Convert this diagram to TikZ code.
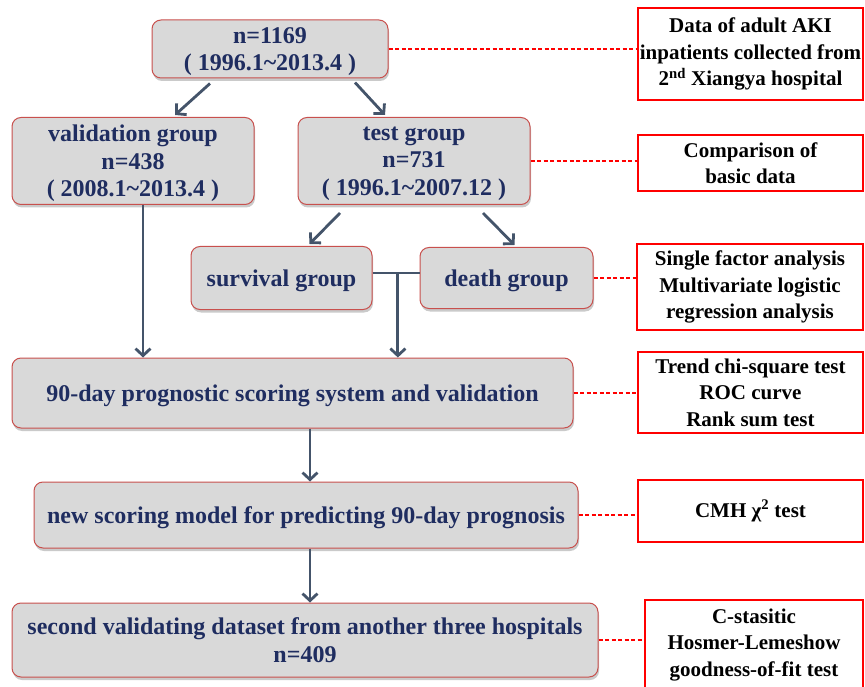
\documentclass[tikz,border=0pt]{standalone}
\usepackage{fontspec}
\setmainfont{Liberation Serif}
\usepackage{tikz}
\usetikzlibrary{calc,arrows.meta,shadows}

\definecolor{boxgray}{RGB}{217,217,217}
\definecolor{boxred}{RGB}{200,80,77}
\definecolor{navy}{RGB}{31,45,96}
\definecolor{arrowgray}{RGB}{68,84,106}

\tikzset{
  stage/.style={draw=boxred, fill=boxgray, line width=1pt, rounded corners=9pt,
    text=navy, align=center, inner sep=0pt, text depth=0pt,
    font=\bfseries\fontsize{24}{27.5}\selectfont,
    drop shadow={shadow xshift=1pt, shadow yshift=-3pt, opacity=0.35, fill=black!60}},
  note/.style={draw=red, line width=1.3pt, fill=white, align=center, inner sep=0pt,
    font=\bfseries\fontsize{21}{26.5}\selectfont},
  flow/.style={draw=arrowgray, line width=2.8pt, -{Straight Barb[length=7pt,width=15pt]}},
  link/.style={draw=red, line width=1.5pt, dash pattern=on 4pt off 2.5pt}
}

\begin{document}
\begin{tikzpicture}[x=1pt, y=-1pt]

      % page frame (reference size)
      \useasboundingbox (0,0) rectangle (865,687);

      % Main stages (left column)
      \node[stage, minimum width=236, minimum height=58] (all) at (270,49)
        {n=1169\\( 1996.1\textasciitilde2013.4 )};
      \node[stage, minimum width=242, minimum height=87] (valid) at (133,161)
        {validation group\\n=438\\( 2008.1\textasciitilde2013.4 )};
      \node[stage, minimum width=232, minimum height=87] (test) at (414,161)
        {test group\\n=731\\( 1996.1\textasciitilde2007.12 )};
      \node[stage, minimum width=181, minimum height=63] (surv) at (281.5,278)
        {survival group};
      \node[stage, minimum width=173, minimum height=61] (death) at (506.5,278)
        {death group};
      \node[stage, minimum width=561, minimum height=70] (score) at (292.5,393)
        {90-day prognostic scoring system and validation};
      \node[stage, minimum width=544, minimum height=66] (model) at (306,515)
        {new scoring model for predicting 90-day prognosis};
      \node[stage, minimum width=586, minimum height=74] (second) at (305,640)
        {second validating dataset from another three hospitals\\n=409};

      % Method notes (right column)
      \node[note, minimum width=225, minimum height=92] (data) at (750.5,54)
        {Data of adult AKI\\inpatients collected\ from\\2\textsuperscript{nd} Xiangya hospital};
      \node[note, minimum width=225, minimum height=56] (comp) at (750.5,163)
        {Comparison of\\basic data};
      \node[note, minimum width=226, minimum height=86] (factor) at (750,287)
        {Single factor analysis\\Multivariate logistic\\regression analysis};
      \node[note, minimum width=225, minimum height=81] (trend) at (750.5,392.5)
        {Trend chi-square test\\ROC curve\\Rank sum test};
      \node[note, minimum width=225, minimum height=62] (cmh) at (750.5,511)
        {CMH χ\textsuperscript{2} test};
      \node[note, minimum width=218, minimum height=90] (cstat) at (754,645)
        {C-stasitic\\Hosmer-Lemeshow\\goodness-of-fit test};

      % dashed red links from stage to note
      \draw[link] (all.east) -- (all.east -| data.west);
      \draw[link] (test.east) -- (test.east -| comp.west);
      \draw[link] (death.east) -- (death.east -| factor.west);
      \draw[link] (score.east) -- (score.east -| trend.west);
      \draw[link] (model.east) -- (model.east -| cmh.west);
      \draw[link] (second.east) -- (second.east -| cstat.west);

      % split arrows
      \draw[flow] ($(all.south)+(-60,5)$) -- ($(valid.north)+(42,-2)$);
      \draw[flow] ($(all.south)+(85,4)$) -- ($(test.north)+(-29,-2)$);
      \draw[flow] ($(test.south)+(-74,8)$) -- ($(surv.north)+(28,-2)$);
      \draw[flow] ($(test.south)+(69,8)$) -- ($(death.north)+(8,-2)$);

      % joining survival and death groups
      \coordinate (sjoin) at ([yshift=5pt]surv.east);
      \coordinate (djoin) at ([yshift=5pt]death.west);
      \coordinate (join) at ($(sjoin)!0.54!(djoin)$);
      \draw[draw=arrowgray, line width=2.8pt] (sjoin) -- (djoin);
      \draw[flow] (join) -- (join |- score.north);
      \draw[flow] ([xshift=10pt]valid.south) -- ([xshift=10pt]valid.south |- score.north);

      % straight chain below
      \draw[flow] ([xshift=17.5pt]score.south) -- ([xshift=4pt]model.north);
      \draw[flow] ([xshift=4pt]model.south) -- ([xshift=5pt]second.north);

    \end{tikzpicture}
\end{document}
